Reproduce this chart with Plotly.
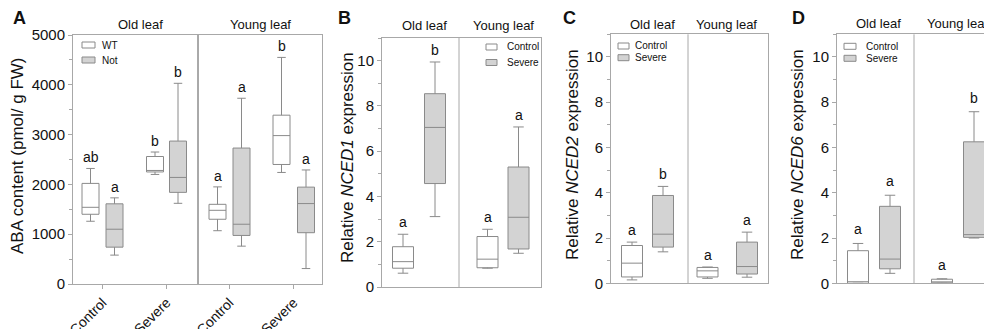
import plotly.graph_objects as go

W, H = 984, 329
FONT = "Liberation Sans, Arial, sans-serif"

# ---------------- DATA ----------------
conditions = ["Control", "Severe"]
leaves = ["Old leaf", "Young leaf"]

# Panel A: ABA content, order: Old-Control, Old-Severe, Young-Control, Young-Severe
aba_wt_lo = [1260, 2200, 1070, 2240]
aba_wt_q1 = [1400, 2250, 1300, 2400]
aba_wt_med = [1540, 2280, 1480, 2980]
aba_wt_q3 = [2020, 2560, 1600, 3390]
aba_wt_hi = [2320, 2650, 1950, 4550]
aba_wt_letters = ["ab", "b", "a", "b"]

aba_not_lo = [580, 1620, 760, 310]
aba_not_q1 = [740, 1840, 975, 1030]
aba_not_med = [1100, 2140, 1200, 1615]
aba_not_q3 = [1610, 2870, 2730, 1945]
aba_not_hi = [1730, 4030, 3730, 2290]
aba_not_letters = ["a", "b", "a", "a"]

# Panels B-D: relative expression, order: Old leaf, Young leaf
nced1_ctrl_lo = [0.61, 0.83]
nced1_ctrl_q1 = [0.83, 0.85]
nced1_ctrl_med = [1.12, 1.23]
nced1_ctrl_q3 = [1.78, 2.23]
nced1_ctrl_hi = [2.33, 2.55]
nced1_ctrl_letters = ["a", "a"]
nced1_sev_lo = [3.11, 1.49]
nced1_sev_q1 = [4.57, 1.68]
nced1_sev_med = [7.05, 3.08]
nced1_sev_q3 = [8.54, 5.30]
nced1_sev_hi = [9.94, 7.07]
nced1_sev_letters = ["b", "a"]

nced2_ctrl_lo = [0.15, 0.22]
nced2_ctrl_q1 = [0.28, 0.28]
nced2_ctrl_med = [0.89, 0.55]
nced2_ctrl_q3 = [1.67, 0.70]
nced2_ctrl_hi = [1.82, 0.72]
nced2_ctrl_letters = ["a", "a"]
nced2_sev_lo = [1.39, 0.27]
nced2_sev_q1 = [1.60, 0.41]
nced2_sev_med = [2.17, 0.74]
nced2_sev_q3 = [3.88, 1.82]
nced2_sev_hi = [4.28, 2.26]
nced2_sev_letters = ["b", "a"]

nced6_ctrl_lo = [0.0, 0.0]
nced6_ctrl_q1 = [0.0, 0.02]
nced6_ctrl_med = [0.07, 0.05]
nced6_ctrl_q3 = [1.44, 0.18]
nced6_ctrl_hi = [1.76, 0.20]
nced6_ctrl_letters = ["a", "a"]
nced6_sev_lo = [0.44, 2.00]
nced6_sev_q1 = [0.64, 2.03]
nced6_sev_med = [1.07, 2.15]
nced6_sev_q3 = [3.40, 6.25]
nced6_sev_hi = [3.89, 7.58]
nced6_sev_letters = ["a", "b"]

# ---------------- STYLE ----------------
C_LINE = "#8a8a8a"
C_FILL_SEV = "#d3d3d3"
C_AXIS = "#a8a8a8"
TXT = "#111111"


def px(x):
    return x / W


def py(y):
    return 1 - y / H


fig = go.Figure()


def add_box(axn, pos, lo, q1, med, q3, hi, fill, width):
    fig.add_trace(go.Box(
        x=[pos], lowerfence=[lo], q1=[q1], median=[med], q3=[q3], upperfence=[hi],
        width=width, whiskerwidth=0.5, fillcolor=fill,
        line=dict(color=C_LINE, width=1), boxpoints=False,
        xaxis="x" if axn == 1 else f"x{axn}", yaxis="y" if axn == 1 else f"y{axn}",
        showlegend=False, hoverinfo="skip"))


def add_letter(axn, pos, yval, text, shift):
    fig.add_annotation(x=pos, y=yval, text=text, showarrow=False,
                       xref="x" if axn == 1 else f"x{axn}", yref="y" if axn == 1 else f"y{axn}",
                       yanchor="middle", yshift=shift, font=dict(size=14, color=TXT, family=FONT))


# ---------------- Panel A ----------------
A_pos_wt = [17.5, 82, 144.5, 208.5]
A_pos_not = [41.5, 105, 168.5, 233]
for i in range(4):
    add_box(1, A_pos_wt[i], aba_wt_lo[i], aba_wt_q1[i], aba_wt_med[i], aba_wt_q3[i], aba_wt_hi[i], "white", 17)
    add_box(1, A_pos_not[i], aba_not_lo[i], aba_not_q1[i], aba_not_med[i], aba_not_q3[i], aba_not_hi[i], C_FILL_SEV, 17)
    add_letter(1, A_pos_wt[i], aba_wt_hi[i], aba_wt_letters[i], 11)
    add_letter(1, A_pos_not[i], aba_not_hi[i], aba_not_letters[i], 11)

# ---------------- Panels B-D ----------------
panels = [
    (2, [21, 105.5], [53, 136.5], nced1_ctrl_lo, nced1_ctrl_q1, nced1_ctrl_med, nced1_ctrl_q3, nced1_ctrl_hi, nced1_ctrl_letters,
     nced1_sev_lo, nced1_sev_q1, nced1_sev_med, nced1_sev_q3, nced1_sev_hi, nced1_sev_letters, 12),
    (3, [21, 96.5], [52, 136], nced2_ctrl_lo, nced2_ctrl_q1, nced2_ctrl_med, nced2_ctrl_q3, nced2_ctrl_hi, nced2_ctrl_letters,
     nced2_sev_lo, nced2_sev_q1, nced2_sev_med, nced2_sev_q3, nced2_sev_hi, nced2_sev_letters, 12.5),
    (4, [21, 105], [53, 137], nced6_ctrl_lo, nced6_ctrl_q1, nced6_ctrl_med, nced6_ctrl_q3, nced6_ctrl_hi, nced6_ctrl_letters,
     nced6_sev_lo, nced6_sev_q1, nced6_sev_med, nced6_sev_q3, nced6_sev_hi, nced6_sev_letters, 14),
]
for (n, pc, ps, clo, cq1, cmed, cq3, chi, clet, slo, sq1, smed, sq3, shi, slet, sh) in panels:
    for i in range(2):
        add_box(n, pc[i], clo[i], cq1[i], cmed[i], cq3[i], chi[i], "white", 21)
        add_box(n, ps[i], slo[i], sq1[i], smed[i], sq3[i], shi[i], C_FILL_SEV, 21)
        add_letter(n, pc[i], chi[i], clet[i], sh)
        add_letter(n, ps[i], shi[i], slet[i], sh)

# ---------------- Axes ----------------
common_y = dict(showgrid=False, zeroline=False, ticks="outside", ticklen=4, tickcolor=C_AXIS, automargin=False,
                showline=True, linecolor=C_AXIS, linewidth=1, tickfont=dict(size=15, color=TXT, family=FONT))
layout = dict(
    template="none",
    width=W, height=H, margin=dict(l=0, r=0, t=0, b=0, pad=0), autosize=False,
    paper_bgcolor="white", plot_bgcolor="white", showlegend=False,
    font=dict(family=FONT, color=TXT),
)
# A
layout["xaxis"] = dict(domain=[px(73), px(322)], range=[0, 249], anchor="y", automargin=False,
                       tickvals=[29.5, 93.5, 156.5, 220.5], ticktext=["Control", "Severe", "Control", "Severe"],
                       tickangle=-45, ticks="outside", ticklen=4, tickcolor=C_AXIS, showgrid=False, zeroline=False,
                       showline=True, linecolor=C_AXIS, mirror=True, tickfont=dict(size=14, color=TXT, family=FONT))
layout["yaxis"] = dict(domain=[py(284), py(35)], range=[0, 5000], anchor="x", tickvals=[0, 1000, 2000, 3000, 4000, 5000],
                       minor=dict(dtick=500, ticks="outside", ticklen=3, tickcolor=C_AXIS, showgrid=False),
                       mirror=True, **common_y)
# B, C, D
specs = {2: (382, 541, 287, 38, 159, True), 3: (611, 768, 283.3, 34.3, 157, True), 4: (837, 984, 283.3, 34.3, 147, False)}
for n, (x0, x1, yb, yt, rng, mir) in specs.items():
    layout[f"xaxis{n}"] = dict(domain=[px(x0), px(x1)], range=[0, rng], anchor=f"y{n}", showticklabels=False,
                               automargin=False, ticks="", showgrid=False, zeroline=False, showline=True,
                               linecolor=C_AXIS, mirror=True)
    layout[f"yaxis{n}"] = dict(domain=[py(yb), py(yt)], range=[0, 11], anchor=f"x{n}", tickvals=[0, 2, 4, 6, 8, 10],
                               minor=dict(dtick=1, ticks="outside", ticklen=3, tickcolor=C_AXIS, showgrid=False),
                               mirror=mir, **common_y)
fig.update_layout(**layout)

# ---------------- Dividers ----------------
fig.add_shape(type="line", xref="x", yref="y domain", x0=125, x1=125, y0=0, y1=1, line=dict(color="#555555", width=1))
for n, xd in [(2, 77), (3, 77), (4, 77)]:
    fig.add_shape(type="line", xref=f"x{n}", yref=f"y{n} domain", x0=xd, x1=xd, y0=0, y1=1,
                  line=dict(color=C_AXIS, width=1))


def ann(x, y, text, size, **kw):
    fig.add_annotation(x=px(x), y=py(y), xref="paper", yref="paper", text=text, showarrow=False,
                       font=dict(size=size, color=TXT, family=FONT), **kw)


# Panel letters
for lab, x in [("A", 11), ("B", 336), ("C", 561), ("D", 790)]:
    ann(x, 18, f"<b>{lab}</b>", 18, xanchor="left", yanchor="middle")

# Group headers
for xo, xy, y in [(140, 260, 25), (424, 503, 26), (652, 726, 24), (878, 957, 23)]:
    ann(xo, y, leaves[0], 13, xanchor="center", yanchor="middle")
    ann(xy, y, leaves[1], 13, xanchor="center", yanchor="middle")

# Y titles
ann(18, 156, "ABA content (pmol/ g FW)", 17, textangle=-90, xanchor="center", yanchor="middle")
ann(347, 158, "Relative <i>NCED1</i> expression", 17, textangle=-90, xanchor="center", yanchor="middle")
ann(572, 155, "Relative <i>NCED2</i> expression", 17, textangle=-90, xanchor="center", yanchor="middle")
ann(797, 155, "Relative <i>NCED6</i> expression", 17, textangle=-90, xanchor="center", yanchor="middle")

# Legends (swatch + label)
legends = [
    (82, 95, 100, 45, 60, ["WT", "Not"]),
    (486, 497, 505, 47, 62.5, conditions),
    (618, 629, 633, 46, 57.7, conditions),
    (844, 856, 864, 46.3, 58.3, conditions),
]
for sx0, sx1, tx, ya, yb2, labels in legends:
    for yc, fill, lab in [(ya, "white", labels[0]), (yb2, C_FILL_SEV, labels[1])]:
        fig.add_shape(type="rect", xref="paper", yref="paper", x0=px(sx0), x1=px(sx1), y0=py(yc + 3), y1=py(yc - 3),
                      fillcolor=fill, line=dict(color=C_LINE, width=1))
        ann(tx, yc, lab, 10, xanchor="left", yanchor="middle")

fig.write_html("out.html", config={"displayModeBar": False, "staticPlot": True},
               post_script="document.body.style.margin='0';document.body.style.overflow='hidden';document.documentElement.style.overflow='hidden';")
